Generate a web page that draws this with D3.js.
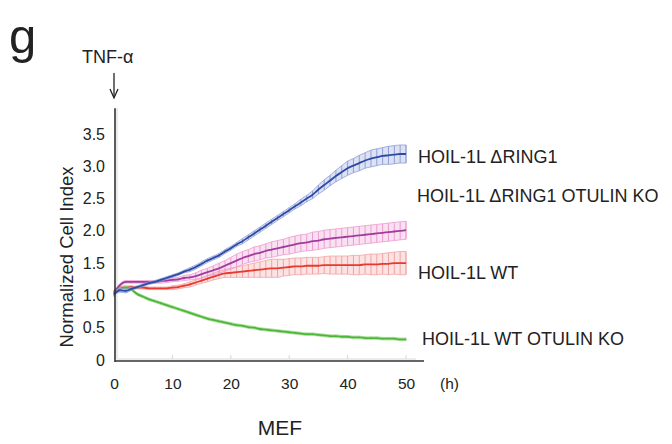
<!DOCTYPE html>
<html>
<head>
<meta charset="utf-8">
<script src="https://cdn.jsdelivr.net/npm/d3@7"></script>
<style>
  html, body { margin: 0; padding: 0; background: #fff; }
  svg { display: block; font-family: "Liberation Sans", Arial, Helvetica, sans-serif; }
</style>
</head>
<body>
<svg id="chart" width="672" height="444"></svg>
<script>
// time points (h)
const hours = d3.range(0, 51);

// mean normalized cell index
const ring1 = [1.02, 1.08, 1.07, 1.10, 1.13, 1.16, 1.19, 1.21, 1.24, 1.27,
  1.30, 1.33, 1.37, 1.40, 1.44, 1.49, 1.54, 1.58, 1.62, 1.68,
  1.73, 1.79, 1.84, 1.90, 1.96, 2.02, 2.08, 2.14, 2.20, 2.26,
  2.32, 2.38, 2.44, 2.50, 2.56, 2.64, 2.71, 2.78, 2.85, 2.91,
  2.97, 3.01, 3.05, 3.09, 3.12, 3.14, 3.16, 3.17, 3.18, 3.19, 3.19];
const ring1Otulin = [1.04, 1.16, 1.21, 1.21, 1.21, 1.21, 1.21, 1.21, 1.22, 1.23,
  1.24, 1.25, 1.27, 1.28, 1.30, 1.33, 1.36, 1.39, 1.42, 1.46,
  1.50, 1.54, 1.58, 1.61, 1.64, 1.66, 1.69, 1.71, 1.73, 1.75,
  1.77, 1.79, 1.81, 1.82, 1.84, 1.85, 1.87, 1.88, 1.89, 1.90,
  1.91, 1.92, 1.93, 1.94, 1.95, 1.96, 1.97, 1.98, 1.99, 2.00, 2.01];
const wt = [1.06, 1.12, 1.13, 1.13, 1.12, 1.12, 1.11, 1.11, 1.11, 1.11,
  1.12, 1.13, 1.15, 1.17, 1.20, 1.23, 1.26, 1.29, 1.32, 1.34,
  1.35, 1.36, 1.37, 1.38, 1.39, 1.40, 1.41, 1.42, 1.42, 1.43,
  1.44, 1.45, 1.45, 1.46, 1.46, 1.46, 1.47, 1.47, 1.47, 1.47,
  1.47, 1.47, 1.47, 1.48, 1.48, 1.48, 1.49, 1.49, 1.50, 1.50, 1.50];
const wtOtulin = [1.00, 1.10, 1.12, 1.09, 1.02, 0.98, 0.94, 0.91, 0.88, 0.85,
  0.82, 0.79, 0.76, 0.73, 0.70, 0.67, 0.64, 0.62, 0.60, 0.58,
  0.56, 0.54, 0.53, 0.51, 0.50, 0.48, 0.47, 0.46, 0.45, 0.44,
  0.43, 0.42, 0.41, 0.40, 0.40, 0.39, 0.38, 0.37, 0.37, 0.36,
  0.36, 0.35, 0.35, 0.34, 0.34, 0.34, 0.33, 0.33, 0.33, 0.32, 0.32];

// error (SD) for each series
const ring1Sd = [0.02, 0.03, 0.03, 0.02, 0.02, 0.02, 0.02, 0.02, 0.02, 0.02,
  0.02, 0.02, 0.02, 0.03, 0.03, 0.03, 0.03, 0.03, 0.03, 0.03,
  0.03, 0.03, 0.04, 0.04, 0.04, 0.04, 0.04, 0.04, 0.04, 0.04,
  0.04, 0.04, 0.05, 0.05, 0.06, 0.07, 0.08, 0.08, 0.09, 0.10,
  0.11, 0.11, 0.12, 0.12, 0.13, 0.13, 0.13, 0.14, 0.14, 0.14, 0.14];
const ring1OtulinSd = [0.02, 0.02, 0.02, 0.02, 0.02, 0.02, 0.02, 0.02, 0.03, 0.03,
  0.03, 0.03, 0.04, 0.04, 0.05, 0.06, 0.06, 0.07, 0.08, 0.08,
  0.09, 0.10, 0.10, 0.10, 0.11, 0.11, 0.11, 0.12, 0.12, 0.12,
  0.13, 0.13, 0.13, 0.13, 0.14, 0.14, 0.14, 0.14, 0.14, 0.14,
  0.14, 0.14, 0.14, 0.14, 0.14, 0.14, 0.14, 0.14, 0.14, 0.14, 0.14];
const wtSd = [0.02, 0.02, 0.02, 0.02, 0.02, 0.02, 0.02, 0.02, 0.02, 0.02,
  0.03, 0.03, 0.03, 0.04, 0.04, 0.04, 0.05, 0.05, 0.06, 0.06,
  0.07, 0.08, 0.09, 0.10, 0.11, 0.12, 0.13, 0.14, 0.14, 0.13,
  0.13, 0.13, 0.13, 0.13, 0.13, 0.13, 0.13, 0.14, 0.14, 0.14,
  0.14, 0.15, 0.15, 0.15, 0.16, 0.16, 0.16, 0.17, 0.17, 0.18, 0.18];
const wtOtulinSd = hours.map(() => 0.02);

const series = [
  { name: "HOIL-1L WT", values: wt, sd: wtSd, line: "#e8392e", band: "#f2a3a3", labelY: 279, labelX: 418 },
  { name: "HOIL-1L \u0394RING1 OTULIN KO", values: ring1Otulin, sd: ring1OtulinSd, line: "#a03c9c", band: "#ec9cd0", labelY: 202, labelX: 417 },
  { name: "HOIL-1L WT OTULIN KO", values: wtOtulin, sd: wtOtulinSd, line: "#4cb638", band: "#9fd890", labelY: 345, labelX: 422 },
  { name: "HOIL-1L \u0394RING1", values: ring1, sd: ring1Sd, line: "#2c4aa6", band: "#909ed8", labelY: 163, labelX: 418 }
];

const yTicks = [0, 0.5, 1.0, 1.5, 2.0, 2.5, 3.0, 3.5];
const xTicks = [0, 10, 20, 30, 40, 50];

const svg = d3.select("#chart");
svg.append("rect").attr("width", 672).attr("height", 444).attr("fill", "#fff");

const x = d3.scaleLinear().domain([0, 50]).range([114, 406]);
const y = d3.scaleLinear().domain([0, 3.5]).range([360, 134]);

// faint inner grid ticks
const grid = svg.append("g").attr("stroke", "#d8d8d8").attr("stroke-width", 1);
grid.append("line").attr("x1", 117).attr("x2", 117).attr("y1", y(3.9)).attr("y2", 359);
grid.append("line").attr("x1", 117).attr("x2", 416).attr("y1", 359).attr("y2", 359);
grid.selectAll(".xt").data(xTicks.slice(1)).join("line")
  .attr("x1", d => x(d)).attr("x2", d => x(d)).attr("y1", 355).attr("y2", 359);

// series
const lineGen = d3.line().x((d, i) => x(hours[i])).y(d => y(d)).curve(d3.curveMonotoneX);
series.forEach(s => {
  const g = svg.append("g");
  const area = d3.area()
    .x((d, i) => x(hours[i]))
    .y0((d, i) => y(d - s.sd[i]))
    .y1((d, i) => y(d + s.sd[i]))
    .curve(d3.curveMonotoneX);
  g.append("path").datum(s.values).attr("d", area)
    .attr("fill", s.band).attr("fill-opacity", 0.3).attr("stroke", s.band).attr("stroke-width", 0.8);
  g.selectAll("line.err").data(s.values).join("line").attr("class", "err")
    .attr("x1", (d, i) => x(hours[i])).attr("x2", (d, i) => x(hours[i]))
    .attr("y1", (d, i) => y(d - s.sd[i])).attr("y2", (d, i) => y(d + s.sd[i]))
    .attr("stroke", s.band).attr("stroke-width", 1);
  g.append("path").datum(s.values).attr("d", lineGen)
    .attr("fill", "none").attr("stroke", s.line).attr("stroke-width", 1.8);
});

// axes
const yAxis = d3.axisLeft(y).tickValues(yTicks).tickSize(0).tickPadding(10)
  .tickFormat(d => d === 0 ? "0" : d3.format(".1f")(d));
const ya = svg.append("g").attr("transform", "translate(115,0)").call(yAxis);
ya.select(".domain").remove();
ya.selectAll("text").attr("font-size", 16).attr("fill", "#222").attr("font-family", null);

const xAxis = d3.axisBottom(x).tickValues(xTicks).tickSize(0).tickPadding(17);
const xa = svg.append("g").attr("transform", "translate(0,361)").call(xAxis);
xa.select(".domain").remove();
xa.selectAll("text").attr("font-size", 15.5).attr("fill", "#222").attr("font-family", null);

svg.append("line").attr("x1", 115).attr("x2", 115).attr("y1", y(3.9)).attr("y2", 362)
  .attr("stroke", "#333").attr("stroke-width", 1.6);
svg.append("line").attr("x1", 115).attr("x2", 424).attr("y1", 361).attr("y2", 361)
  .attr("stroke", "#333").attr("stroke-width", 1.6);

// labels
svg.selectAll("text.lab").data(series).join("text").attr("class", "lab")
  .attr("x", d => d.labelX).attr("y", d => d.labelY)
  .attr("font-size", 18).attr("fill", "#222").text(d => d.name);

svg.append("text").attr("x", 440).attr("y", 389).attr("font-size", 15.5).attr("fill", "#222").text("(h)");
svg.append("text").attr("x", 280).attr("y", 435).attr("text-anchor", "middle")
  .attr("font-size", 21).attr("fill", "#222").text("MEF");
svg.append("text").attr("transform", "translate(73,257) rotate(-90)").attr("text-anchor", "middle")
  .attr("font-size", 18.5).attr("fill", "#222").text("Normalized Cell Index");
svg.append("text").attr("x", 9).attr("y", 53).attr("font-size", 49).attr("fill", "#222").text("g");
svg.append("text").attr("x", 82).attr("y", 63).attr("font-size", 18).attr("fill", "#222").text("TNF-\u03b1");

// arrow for treatment
svg.append("line").attr("x1", x(0)).attr("x2", x(0)).attr("y1", 73).attr("y2", 97)
  .attr("stroke", "#222").attr("stroke-width", 1.3);
svg.append("path").attr("d", `M${x(0) - 4},89 L${x(0)},98 L${x(0) + 4},89`)
  .attr("fill", "none").attr("stroke", "#222").attr("stroke-width", 1.3);
</script>
</body>
</html>
